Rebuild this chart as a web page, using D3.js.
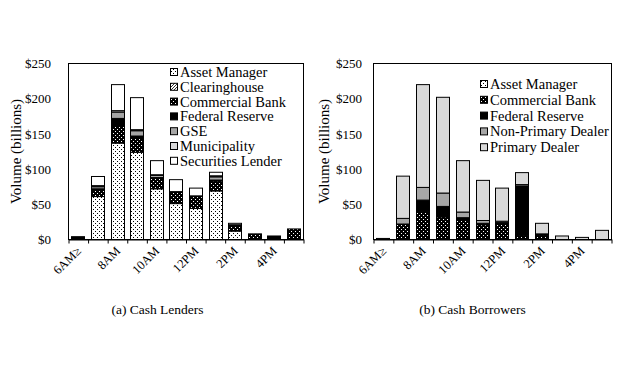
<!DOCTYPE html>
<html><head><meta charset="utf-8">
<script src="https://cdn.jsdelivr.net/npm/d3@7"></script>
<style>
html,body{margin:0;padding:0;background:#fff;}
</style></head>
<body><svg id="chart" width="630" height="376"></svg>
<script>
// ---------- DATA ----------
const categories = ["6AM\u2265","7AM","8AM","9AM","10AM","11AM","12PM","1PM","2PM","3PM","4PM","5PM"];
const tickLabels = ["6AM\u2265","","8AM","","10AM","","12PM","","2PM","","4PM",""];
const yTicks = [0,50,100,150,200,250];

// (a) Cash Lenders, $ billions
const lenderSeries = ["Asset Manager","Clearinghouse","Commercial Bank","Federal Reserve","GSE","Municipality","Securities Lender"];
const lenderAssetManager     = [0, 61, 137, 124, 72, 51, 44, 69, 12, 0, 0, 0];
const lenderClearinghouse    = [0, 0, 0, 0, 0, 0, 0, 0, 0, 0, 0, 0];
const lenderCommercialBank   = [0, 10, 25, 21, 15, 16, 17, 14, 8, 8, 0, 15];
const lenderFederalReserve   = [4, 1, 10, 2, 1, 1, 1, 1.5, 1, 0, 5, 0];
const lenderGSE              = [0, 3, 9, 7.5, 3, 0, 0, 4.5, 0, 0, 0, 0];
const lenderMunicipality     = [0, 1.5, 2, 1.5, 1, 0, 0, 1.5, 0, 0, 0, 0];
const lenderSecuritiesLender = [0, 13, 37, 45.5, 20, 17, 11, 5, 2, 0, 0, 0];

// (b) Cash Borrowers, $ billions
const borrowerSeries = ["Asset Manager","Commercial Bank","Federal Reserve","Non-Primary Dealer","Primary Dealer"];
const borrowerAssetManager     = [0, 0, 0, 0, 0, 0, 0, 0, 0, 0, 0, 0];
const borrowerCommercialBank   = [0, 22, 40, 32, 27, 21, 22, 6, 6, 0, 0, 0];
const borrowerFederalReserve   = [1.5, 0, 16, 15, 4, 2, 2, 70, 2, 0, 0, 0];
const borrowerNonPrimaryDealer = [0, 8, 18, 19, 8, 4, 2, 2, 0, 0, 0, 0];
const borrowerPrimaryDealer    = [0, 60, 146, 136, 73, 57, 47, 17, 15, 5, 3, 13];

// ---------- STYLES ----------
const FONT = "Liberation Serif";
const fills = {
  "Asset Manager":"url(#pAsset)",
  "Clearinghouse":"url(#pHatch)",
  "Commercial Bank":"url(#pComm)",
  "Federal Reserve":"#000",
  "GSE":"#a6a6a6",
  "Non-Primary Dealer":"#a6a6a6",
  "Municipality":"#d9d9d9",
  "Primary Dealer":"#d9d9d9",
  "Securities Lender":"#fff"
};

const svg = d3.select("#chart");
const defs = svg.append("defs");
let p = defs.append("pattern").attr("id","pAsset").attr("patternUnits","userSpaceOnUse").attr("width",4).attr("height",4);
p.append("rect").attr("width",4).attr("height",4).attr("fill","#fff");
p.append("rect").attr("x",1).attr("y",1).attr("width",1).attr("height",1).attr("fill","#000");
p.append("rect").attr("x",3).attr("y",3).attr("width",1).attr("height",1).attr("fill","#000");
p = defs.append("pattern").attr("id","pComm").attr("patternUnits","userSpaceOnUse").attr("width",4).attr("height",4);
p.append("rect").attr("width",4).attr("height",4).attr("fill","#000");
p.append("rect").attr("x",1).attr("y",1).attr("width",1).attr("height",1).attr("fill","#fff");
p.append("rect").attr("x",3).attr("y",3).attr("width",1).attr("height",1).attr("fill","#fff");
p = defs.append("pattern").attr("id","pHatch").attr("patternUnits","userSpaceOnUse").attr("width",3).attr("height",3);
p.append("rect").attr("width",3).attr("height",3).attr("fill","#fff");
p.append("path").attr("d","M0,3 L3,0").attr("stroke","#000").attr("stroke-width",0.8);

// ---------- PANELS ----------
const panels = [
  {series: lenderSeries,
   values: [lenderAssetManager, lenderClearinghouse, lenderCommercialBank, lenderFederalReserve, lenderGSE, lenderMunicipality, lenderSecuritiesLender],
   x0: 68, x1: 303, labelPad: 17, yTitleX: 16, subX: 157.5, sub: "(a) Cash Lenders",
   legX: 170, legY: 72, legDy: 14.8},
  {series: borrowerSeries,
   values: [borrowerAssetManager, borrowerCommercialBank, borrowerFederalReserve, borrowerNonPrimaryDealer, borrowerPrimaryDealer],
   x0: 373, x1: 611, labelPad: 11, yTitleX: 324, subX: 472.5, sub: "(b) Cash Borrowers",
   legX: 480, legY: 84, legDy: 15.8}
];

const yTop = 63.5, yBot = 239.5;

function txt(sel, size) {
  return sel.attr("font-family", FONT).attr("font-size", size).attr("fill", "#000");
}

panels.forEach(P => {
  const g = svg.append("g");
  const rows = categories.map((c,i) => {
    const r = {cat: c};
    P.series.forEach((s,k) => r[s] = P.values[k][i]);
    return r;
  });
  const stacked = d3.stack().keys(P.series)(rows);

  const x = d3.scaleBand().domain(categories).range([P.x0, P.x1]).paddingInner(0.35).paddingOuter(0.175);
  const y = d3.scaleLinear().domain([0,250]).range([yBot, yTop]);

  stacked.forEach(layer => {
    g.append("g").selectAll("rect")
      .data(layer.filter(d => d[1] - d[0] > 0))
      .join("rect")
      .attr("x", d => Math.round(x(d.data.cat)) + 0.5)
      .attr("width", Math.round(x.bandwidth()))
      .attr("y", d => y(d[1]))
      .attr("height", d => y(d[0]) - y(d[1]))
      .attr("fill", fills[layer.key])
      .attr("stroke", "#000")
      .attr("stroke-width", 1);
  });

  g.append("rect").attr("x", P.x0 + 0.5).attr("y", yTop).attr("width", P.x1 - P.x0).attr("height", yBot - yTop)
    .attr("fill","none").attr("stroke","#000").attr("stroke-width",1);

  const xb = d3.scaleLinear().domain([0, categories.length]).range([P.x0 + 0.5, P.x1 + 0.5]);
  const xAxis = g.append("g").attr("transform", `translate(0,${yBot})`)
    .call(d3.axisBottom(xb).tickValues(d3.range(0, categories.length + 1)).tickSize(4).tickSizeOuter(0).tickFormat(""));
  xAxis.select(".domain").attr("stroke","#000");
  xAxis.selectAll("line").attr("stroke","#000");

  txt(g.append("g").selectAll("text")
    .data(categories.map((c,i) => ({c, lab: tickLabels[i]})).filter(d => d.lab))
    .join("text")
    .attr("transform", d => `translate(${x(d.c) + x.bandwidth()/2 + 1},${yBot + 9}) rotate(-45)`)
    .attr("text-anchor","end")
    .attr("dy","0.35em"), 12.5)
    .text(d => d.lab);

  const yAxis = g.append("g").attr("transform", `translate(${P.x0},0)`)
    .call(d3.axisLeft(y).tickValues(yTicks).tickSize(0).tickPadding(P.labelPad).tickFormat(d => "$" + d));
  yAxis.select(".domain").remove();
  txt(yAxis, 13);
  txt(yAxis.selectAll("text"), 13);

  txt(g.append("text")
    .attr("transform", `translate(${P.yTitleX},${(yTop + yBot)/2}) rotate(-90)`)
    .attr("text-anchor","middle").attr("dy","0.35em"), 15)
    .text("Volume (billions)");

  txt(g.append("text").attr("x", P.subX).attr("y", 314).attr("text-anchor","middle"), 13.5).text(P.sub);

  const leg = g.append("g");
  P.series.forEach((s,i) => {
    const cy = P.legY + i * P.legDy;
    leg.append("rect").attr("x", P.legX + 0.5).attr("y", cy - 3.5).attr("width", 7).attr("height", 7)
      .attr("fill", fills[s]).attr("stroke","#000").attr("stroke-width",1);
    txt(leg.append("text").attr("x", P.legX + 10).attr("y", cy).attr("dy","0.35em"), 14.5).text(s);
  });
});
</script></body></html>
